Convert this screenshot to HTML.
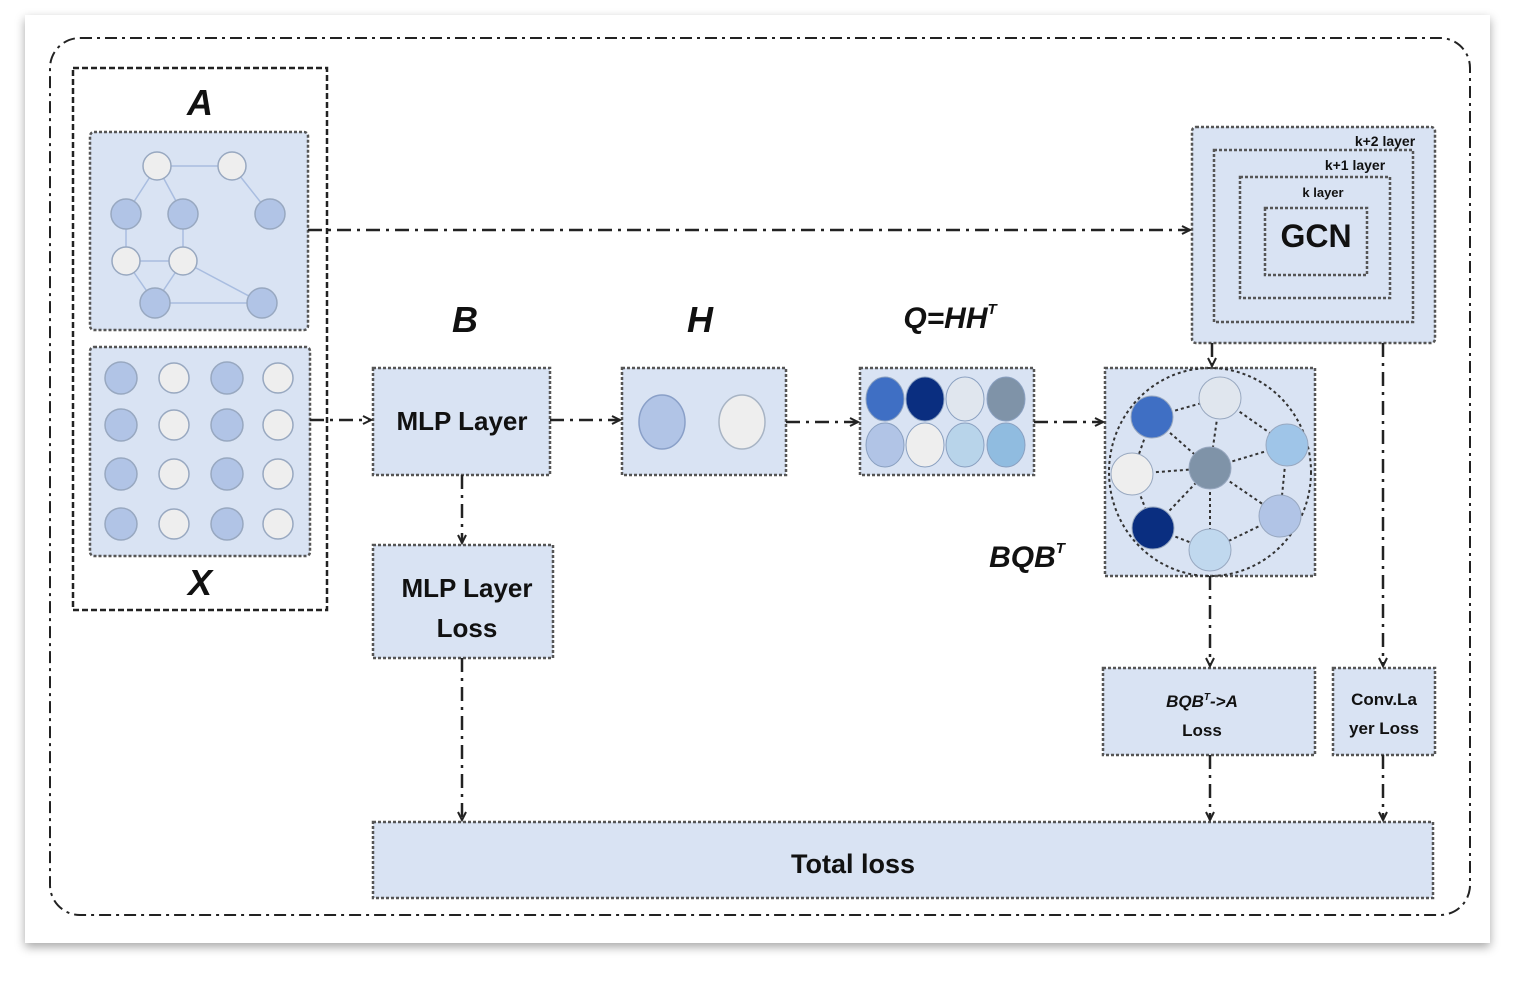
<!DOCTYPE html>
<html><head><style>
html,body{margin:0;padding:0;background:#fff;}
svg{display:block;}
text{font-family:"Liberation Sans",sans-serif;font-weight:bold;fill:#111;}
</style></head><body>
<svg width="1533" height="990" viewBox="0 0 1533 990" xmlns="http://www.w3.org/2000/svg">
<defs>
<filter id="sh" x="-5%" y="-5%" width="110%" height="115%"><feDropShadow dx="0" dy="4" stdDeviation="5" flood-color="#000" flood-opacity="0.35"/></filter>
<marker id="ar" markerWidth="12" markerHeight="12" refX="9" refY="5" orient="auto" markerUnits="userSpaceOnUse"><path d="M1,1 L9,5 L1,9" fill="none" stroke="#222" stroke-width="2"/></marker>
</defs>
<rect x="25" y="15" width="1465" height="928" fill="#fff" filter="url(#sh)"/>
<rect x="50" y="38" width="1420" height="877" rx="30" fill="none" stroke="#222" stroke-width="2" stroke-dasharray="12,5,3,5"/>
<g fill="#d9e3f3" stroke="#555" stroke-width="2.5" stroke-dasharray="3,2">
<rect x="73" y="68" width="254" height="542" fill="none" stroke="#222" stroke-dasharray="6,3"/>
<rect x="90" y="132" width="218" height="198" rx="4"/>
<rect x="90" y="347" width="220" height="209" rx="4"/>
<rect x="373" y="368" width="177" height="107"/>
<rect x="622" y="368" width="164" height="107"/>
<rect x="860" y="368" width="174" height="107"/>
<rect x="1105" y="368" width="210" height="208"/>
<rect x="1192" y="127" width="243" height="216" rx="4"/>
<rect x="1214" y="150" width="199" height="172" fill="none"/>
<rect x="1240" y="177" width="150" height="121" fill="none"/>
<rect x="1265" y="208" width="102" height="67" fill="none"/>
<rect x="373" y="545" width="180" height="113"/>
<rect x="1103" y="668" width="212" height="87"/>
<rect x="1333" y="668" width="102" height="87"/>
<rect x="373" y="822" width="1060" height="76"/>
</g>
<!-- A graph -->
<g stroke="#a9bde0" stroke-width="1.5">
<line x1="157" y1="166" x2="232" y2="166"/><line x1="157" y1="166" x2="126" y2="214"/><line x1="157" y1="166" x2="183" y2="214"/>
<line x1="232" y1="166" x2="270" y2="214"/><line x1="126" y1="214" x2="126" y2="261"/><line x1="183" y1="214" x2="183" y2="261"/>
<line x1="126" y1="261" x2="183" y2="261"/><line x1="126" y1="261" x2="155" y2="303"/><line x1="183" y1="261" x2="155" y2="303"/>
<line x1="183" y1="261" x2="262" y2="303"/><line x1="155" y1="303" x2="262" y2="303"/>
</g>
<g stroke="#98a8c0" stroke-width="1.5">
<circle cx="157" cy="166" r="14" fill="#eeeeee"/><circle cx="232" cy="166" r="14" fill="#eeeeee"/>
<circle cx="126" cy="214" r="15" fill="#b1c4e6"/><circle cx="183" cy="214" r="15" fill="#b1c4e6"/><circle cx="270" cy="214" r="15" fill="#b1c4e6"/>
<circle cx="126" cy="261" r="14" fill="#eeeeee"/><circle cx="183" cy="261" r="14" fill="#eeeeee"/>
<circle cx="155" cy="303" r="15" fill="#b1c4e6"/><circle cx="262" cy="303" r="15" fill="#b1c4e6"/>
</g>
<!-- X grid -->
<g stroke="#98a8c0" stroke-width="1.5">
<g id="row"><circle cx="121" cy="378" r="16" fill="#b1c4e6"/><circle cx="174" cy="378" r="15" fill="#eeeeee"/><circle cx="227" cy="378" r="16" fill="#b1c4e6"/><circle cx="278" cy="378" r="15" fill="#eeeeee"/></g>
<use href="#row" y="47"/><use href="#row" y="96"/><use href="#row" y="146"/>
</g>
<!-- H ovals -->
<ellipse cx="662" cy="422" rx="23" ry="27" fill="#b1c4e6" stroke="#8aa0c8" stroke-width="1.5"/>
<ellipse cx="742" cy="422" rx="23" ry="27" fill="#eeeeee" stroke="#a8b4c4" stroke-width="1.5"/>
<!-- Q -->
<g stroke="#8aa0c0" stroke-width="1">
<ellipse cx="885" cy="399" rx="19" ry="22" fill="#3f6fc4"/><ellipse cx="925" cy="399" rx="19" ry="22" fill="#0a2e80"/>
<ellipse cx="965" cy="399" rx="19" ry="22" fill="#e0e6ee"/><ellipse cx="1006" cy="399" rx="19" ry="22" fill="#7f93a8"/>
<ellipse cx="885" cy="445" rx="19" ry="22" fill="#b1c4e6"/><ellipse cx="925" cy="445" rx="19" ry="22" fill="#eeeeee"/>
<ellipse cx="965" cy="445" rx="19" ry="22" fill="#b8d4ea"/><ellipse cx="1006" cy="445" rx="19" ry="22" fill="#90bce0"/>
</g>
<!-- BQB graph -->
<ellipse cx="1210" cy="472" rx="101" ry="104" fill="none" stroke="#333" stroke-width="2" stroke-dasharray="3,3"/>
<g stroke="#333" stroke-width="2" stroke-dasharray="3,3">
<line x1="1152" y1="417" x2="1220" y2="398"/><line x1="1220" y1="398" x2="1287" y2="445"/><line x1="1220" y1="398" x2="1210" y2="468"/>
<line x1="1152" y1="417" x2="1132" y2="474"/><line x1="1152" y1="417" x2="1210" y2="468"/><line x1="1132" y1="474" x2="1210" y2="468"/>
<line x1="1287" y1="445" x2="1210" y2="468"/><line x1="1287" y1="445" x2="1280" y2="516"/><line x1="1132" y1="474" x2="1153" y2="528"/>
<line x1="1153" y1="528" x2="1210" y2="468"/><line x1="1210" y1="468" x2="1280" y2="516"/><line x1="1210" y1="468" x2="1210" y2="550"/>
<line x1="1153" y1="528" x2="1210" y2="550"/><line x1="1280" y1="516" x2="1210" y2="550"/>
</g>
<g stroke="#98a8c0" stroke-width="1">
<circle cx="1152" cy="417" r="21" fill="#3f6fc4"/><circle cx="1220" cy="398" r="21" fill="#e0e6ee"/>
<circle cx="1287" cy="445" r="21" fill="#9fc5e8"/><circle cx="1132" cy="474" r="21" fill="#eeeeee"/>
<circle cx="1210" cy="468" r="21" fill="#7f93a8"/><circle cx="1153" cy="528" r="21" fill="#0a2e80"/>
<circle cx="1280" cy="516" r="21" fill="#b1c4e6"/><circle cx="1210" cy="550" r="21" fill="#c0d8ee"/>
</g>
<!-- connectors -->
<g fill="none" stroke="#222" stroke-width="2.5" stroke-dasharray="14,6,3,6" marker-end="url(#ar)">
<line x1="308" y1="230" x2="1190" y2="230"/>
<line x1="310" y1="420" x2="371" y2="420"/>
<line x1="550" y1="420" x2="620" y2="420"/>
<line x1="786" y1="422" x2="858" y2="422"/>
<line x1="1034" y1="422" x2="1103" y2="422"/>
<line x1="462" y1="475" x2="462" y2="543"/>
<line x1="462" y1="658" x2="462" y2="820"/>
<line x1="1212" y1="343" x2="1212" y2="366"/>
<line x1="1210" y1="576" x2="1210" y2="666"/>
<line x1="1383" y1="343" x2="1383" y2="666"/>
<line x1="1210" y1="755" x2="1210" y2="820"/>
<line x1="1383" y1="755" x2="1383" y2="820"/>
</g>
<!-- labels -->
<g font-style="italic" font-size="36" text-anchor="middle">
<text x="200" y="115">A</text><text x="200" y="595">X</text>
<text x="465" y="332">B</text><text x="700" y="332">H</text>
</g>
<text x="950" y="328" font-style="italic" font-size="30" text-anchor="middle">Q=HH<tspan font-size="15" dy="-14">T</tspan></text>
<text x="1027" y="567" font-style="italic" font-size="30" text-anchor="middle">BQB<tspan font-size="15" dy="-14">T</tspan></text>
<g text-anchor="middle">
<text x="462" y="430" font-size="26">MLP Layer</text>
<text x="467" y="597" font-size="26">MLP Layer</text>
<text x="467" y="637" font-size="26">Loss</text>
<text x="1202" y="707" font-size="17" font-style="italic">BQB<tspan font-size="10" dy="-7">T</tspan><tspan dy="7">-&gt;A</tspan></text>
<text x="1202" y="736" font-size="17">Loss</text>
<text x="1384" y="705" font-size="17">Conv.La</text>
<text x="1384" y="734" font-size="17">yer Loss</text>
<text x="853" y="873" font-size="27">Total loss</text>
<text x="1316" y="247" font-size="32">GCN</text>
<text x="1323" y="197" font-size="13">k layer</text>
<text x="1355" y="170" font-size="14">k+1  layer</text>
<text x="1385" y="146" font-size="14">k+2  layer</text>
</g>
</svg>
</body></html>
